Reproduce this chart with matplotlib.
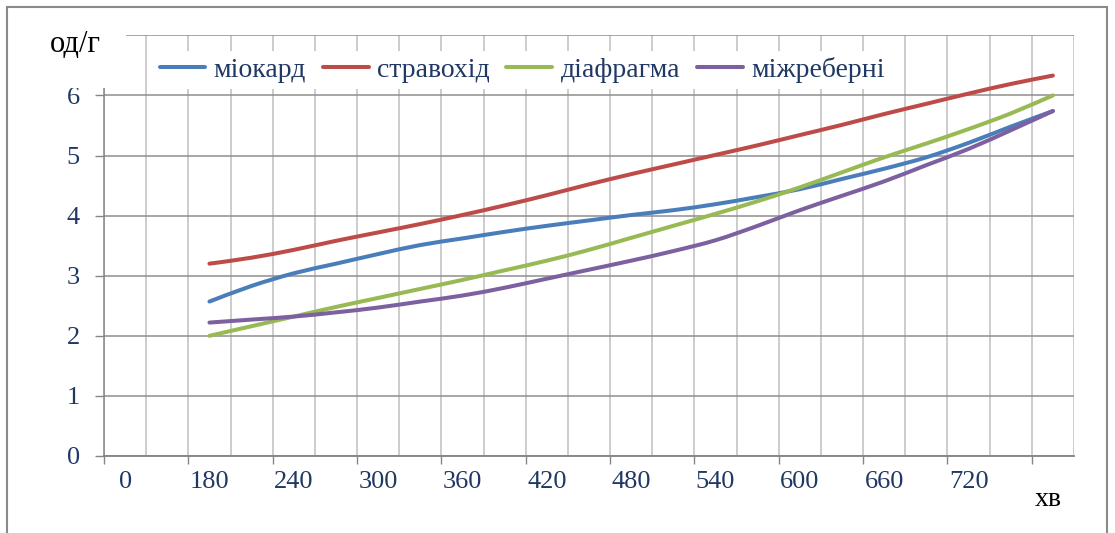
import numpy as np
import matplotlib.pyplot as plt
from matplotlib.path import Path
from matplotlib.patches import PathPatch, Rectangle
from matplotlib.lines import Line2D

plt.rcParams['font.family'] = ['Liberation Serif', 'DejaVu Serif']

# категорії осі x (хв), підписи через одну
x_labels = ['0', '', '180', '210', '240', '270', '300', '330', '360', '390', '420',
            '450', '480', '510', '540', '570', '600', '630', '660', '690', '720',
            '750', '780']
minutes = ['180', '210', '240', '270', '300', '330', '360', '390', '420', '450', '480',
           '510', '540', '570', '600', '630', '660', '690', '720', '750', '780']

miokard = [2.57, 2.83, 3.04, 3.20, 3.36, 3.51, 3.62, 3.73, 3.83, 3.92, 4.01,
           4.09, 4.19, 4.31, 4.44, 4.61, 4.78, 4.97, 5.21, 5.48, 5.74]
stravokhid = [3.20, 3.30, 3.43, 3.58, 3.72, 3.86, 4.01, 4.17, 4.34, 4.52, 4.69,
              4.85, 5.01, 5.17, 5.34, 5.51, 5.69, 5.86, 6.03, 6.19, 6.33]
diafragma = [2.00, 2.16, 2.32, 2.48, 2.63, 2.78, 2.93, 3.09, 3.25, 3.43, 3.63,
             3.83, 4.03, 4.24, 4.47, 4.72, 4.97, 5.20, 5.44, 5.70, 6.00]
mizhreberni = [2.22, 2.27, 2.32, 2.39, 2.47, 2.57, 2.67, 2.80, 2.95, 3.10, 3.25,
               3.41, 3.59, 3.83, 4.09, 4.33, 4.57, 4.84, 5.11, 5.42, 5.74]

series = [('міокард', miokard, '#4A7EBB'),
          ('стравохід', stravokhid, '#BE4B48'),
          ('діафрагма', diafragma, '#98B954'),
          ('міжреберні', mizhreberni, '#7D60A0')]

navy = '#1F3864'
W, H = 1115, 533


def smooth_path(xs, ys):
    # згладжена лінія як в Excel: кубічні Безьє з дотичними (P[i+1]-P[i-1])/6
    p = np.column_stack([xs, ys]).astype(float)
    ext = np.vstack([p[0], p, p[-1]])
    verts = [p[0]]
    codes = [Path.MOVETO]
    for i in range(len(p) - 1):
        p0, p1, p2, p3 = ext[i], ext[i + 1], ext[i + 2], ext[i + 3]
        verts += [p1 + (p2 - p0) / 6, p2 - (p3 - p1) / 6, p2]
        codes += [Path.CURVE4] * 3
    return Path(verts, codes)


fig = plt.figure(figsize=(W / 100, H / 100), dpi=100)
ax = fig.add_axes([104 / W, 1 - 456 / H, (1074 - 104) / W, (456 - 35.3) / H])

pos = {lab: i for i, lab in enumerate(x_labels) if lab}
xs = [pos[m] for m in minutes]

for name, vals, col in series:
    ax.add_patch(PathPatch(smooth_path(xs, vals), fill=False, edgecolor=col,
                           lw=2.9, capstyle='round', joinstyle='round', zorder=3))

ax.set_xlim(-0.5, len(x_labels) - 0.5)
ax.set_ylim(0, 7)

# сітка
ax.set_xticks(np.arange(-0.5, len(x_labels), 1))
ax.set_xticklabels([])
ax.tick_params(axis='x', length=0)
ax.grid(axis='x', color='#C8C8C8', lw=1.3)
ax.set_yticks(range(7))
ax.grid(axis='y', color='#8E8E8E', lw=1.1)
ax.axhline(7, color='#8E8E8E', lw=1.1)
ax.set_axisbelow(True)

ax.tick_params(axis='y', length=6.5, width=1, color='#868686', pad=11,
               labelsize=19, labelcolor=navy)
for s in ['top', 'right']:
    ax.spines[s].set_visible(False)
for s in ['left', 'bottom']:
    ax.spines[s].set_color('#868686')
    ax.spines[s].set_linewidth(1.1)

sec = ax.secondary_xaxis('bottom')
sec.set_xticks(np.arange(-0.5, len(x_labels) - 1, 2))
sec.set_xticklabels([])
label_pos = [i for i, lab in enumerate(x_labels) if lab and i % 2 == 0 and i < 22]
sec.set_xticks(label_pos, labels=[x_labels[i] for i in label_pos], minor=True)
sec.tick_params(which='major', length=6, width=1, color='#868686')
sec.tick_params(which='minor', length=0, pad=11, labelsize=19, labelcolor=navy)
sec.spines['bottom'].set_color('#868686')
sec.spines['bottom'].set_linewidth(1.1)

handles = [Line2D([], [], color=c, lw=2.9, solid_capstyle='round') for _, _, c in series]
leg = ax.legend(handles, [n for n, _, _ in series], loc='center left',
                bbox_to_anchor=(154 / W, 1 - 70 / H), bbox_transform=fig.transFigure,
                ncol=4, frameon=True, framealpha=1, fancybox=False,
                handlelength=1.65, handletextpad=0.3, columnspacing=0.6,
                borderpad=0.2, borderaxespad=0, fontsize=20, labelcolor=navy)
leg.get_frame().set_edgecolor('none')

# підпис осі y з білим фоном
fig.patches.append(Rectangle((30 / W, 1 - 88 / H), 96 / W, 58 / H,
                             transform=fig.transFigure, facecolor='white',
                             edgecolor='none', zorder=2))
fig.text(75 / W, 1 - 45 / H, 'од/г', ha='center', va='center', fontsize=22,
         color='black', zorder=3)
fig.text(1048 / W, 1 - 500 / H, 'хв', ha='center', va='center', fontsize=20,
         color='black')

# рамка діаграми
fig.patches.append(Rectangle((7 / W, -0.1), 1100 / W, 1.1 - 7 / H,
                             transform=fig.transFigure, fill=False,
                             edgecolor='#8A8A8A', lw=1.5, zorder=4))

fig.savefig('out.png', dpi=100)
